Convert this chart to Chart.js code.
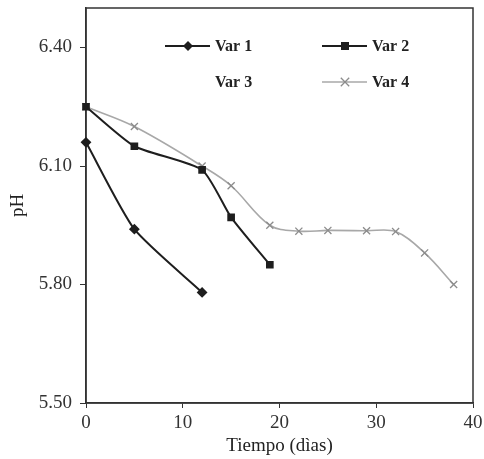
<!DOCTYPE html>
<html>
<head>
<meta charset="utf-8">
<script src="https://cdn.jsdelivr.net/npm/chart.js@4.4.0/dist/chart.umd.min.js"></script>
<style>
html, body { margin: 0; padding: 0; background: #fff; }
</style>
</head>
<body>
<canvas id="phChart" width="484" height="459"></canvas>
<script>
// valores
const dias1 = [0, 5, 12]
const ph1 = [6.16, 5.94, 5.78]
const dias2 = [0, 5, 12, 15, 19]
const ph2 = [6.25, 6.15, 6.09, 5.97, 5.85]
const dias3 = []
const ph3 = []
const dias4 = [0, 5, 12, 15, 19, 22, 25, 29, 32, 35, 38]
const ph4 = [6.25, 6.20, 6.10, 6.05, 5.95, 5.935, 5.937, 5.936, 5.934, 5.88, 5.80]
const seriesNames = ['Var 1', 'Var 2', 'Var 3', 'Var 4']
const xTicks = [0, 10, 20, 30, 40]
const yTicks = [5.50, 5.80, 6.10, 6.40]

const toPoints = (xs, ys) => xs.map((x, i) => ({x: x, y: ys[i]}))

const serif = 'Liberation Serif'
const axisColor = '#333'

// marcador para la leyenda
function drawMarker(ctx, style, cx, cy, r, color) {
    ctx.save()
    ctx.fillStyle = color
    ctx.strokeStyle = color
    ctx.lineWidth = 1.3
    ctx.beginPath()
    if (style === 'rectRot') {
        ctx.moveTo(cx, cy - r); ctx.lineTo(cx + r, cy); ctx.lineTo(cx, cy + r); ctx.lineTo(cx - r, cy)
        ctx.closePath(); ctx.fill()
    } else if (style === 'rect') {
        ctx.rect(cx - r * 0.8, cy - r * 0.8, r * 1.6, r * 1.6); ctx.fill()
    } else if (style === 'crossRot') {
        const d = r * 0.7
        ctx.moveTo(cx - d, cy - d); ctx.lineTo(cx + d, cy + d)
        ctx.moveTo(cx - d, cy + d); ctx.lineTo(cx + d, cy - d)
        ctx.stroke()
    }
    ctx.restore()
}

const legendInside = {
    id: 'legendInside',
    afterDraw(chart) {
        const ctx = chart.ctx
        const area = chart.chartArea
        const cols = [area.left + 79, area.left + 236]
        const rows = [area.top + 38, area.top + 74]
        ctx.save()
        ctx.font = 'bold 16px "' + serif + '"'
        ctx.textBaseline = 'middle'
        ctx.textAlign = 'left'
        chart.data.datasets.forEach((ds, i) => {
            const x = cols[i % 2]
            const y = rows[Math.floor(i / 2)]
            if (ds.data.length) {
                ctx.strokeStyle = ds.borderColor
                ctx.lineWidth = ds.borderWidth
                ctx.beginPath()
                ctx.moveTo(x, y); ctx.lineTo(x + 45, y)
                ctx.stroke()
                drawMarker(ctx, ds.pointStyle, x + 23, y, ds.pointRadius + 1, ds.pointBorderColor)
            }
            ctx.fillStyle = '#222'
            ctx.fillText(ds.label, x + 50, y + 1)
        })
        ctx.restore()
    }
}

const frame = {
    id: 'frame',
    beforeDatasetsDraw(chart) {
        const a = chart.chartArea
        const ctx = chart.ctx
        ctx.save()
        ctx.strokeStyle = axisColor
        ctx.lineWidth = 1.5
        ctx.strokeRect(a.left, a.top, a.right - a.left, a.bottom - a.top)
        ctx.restore()
    }
}

new Chart(document.getElementById('phChart'), {
    type: 'line',
    data: {
        datasets: [{
            label: seriesNames[0],
            data: toPoints(dias1, ph1),
            borderColor: '#1e1e1e',
            backgroundColor: '#1e1e1e',
            pointBorderColor: '#1e1e1e',
            borderWidth: 2,
            pointStyle: 'rectRot',
            pointRadius: 4,
            tension: 0.2
        }, {
            label: seriesNames[1],
            data: toPoints(dias2, ph2),
            borderColor: '#1e1e1e',
            backgroundColor: '#1e1e1e',
            pointBorderColor: '#1e1e1e',
            borderWidth: 2,
            pointStyle: 'rect',
            pointRadius: 4,
            tension: 0.2
        }, {
            label: seriesNames[2],
            data: toPoints(dias3, ph3),
            borderColor: 'rgba(0,0,0,0)',
            pointBorderColor: 'rgba(0,0,0,0)',
            borderWidth: 0,
            pointRadius: 0
        }, {
            label: seriesNames[3],
            data: toPoints(dias4, ph4),
            borderColor: '#a8a8a8',
            backgroundColor: '#a8a8a8',
            pointBorderColor: '#8c8c8c',
            pointBorderWidth: 1.3,
            borderWidth: 1.6,
            pointStyle: 'crossRot',
            pointRadius: 5,
            tension: 0.35
        }]
    },
    options: {
        responsive: false,
        animation: false,
        devicePixelRatio: 1,
        clip: false,
        layout: { padding: { top: 8, right: 11, left: 0, bottom: 0 } },
        plugins: {
            legend: { display: false },
            tooltip: { enabled: false }
        },
        scales: {
            x: {
                type: 'linear',
                min: 0,
                max: 40,
                afterBuildTicks: scale => { scale.ticks = xTicks.map(v => ({value: v})) },
                afterFit: scale => { scale.height = 56; scale.paddingLeft = 0; scale.paddingRight = 0 },
                grid: { drawOnChartArea: false, drawTicks: true, tickLength: 5, color: axisColor },
                border: { display: true, color: axisColor, width: 1.5 },
                ticks: { color: '#333', font: { family: serif, size: 19 }, padding: 4, maxRotation: 0 },
                title: { display: true, text: 'Tiempo (dìas)', color: '#222', font: { family: serif, size: 19 }, padding: { top: 0, bottom: 2 } }
            },
            y: {
                min: 5.5,
                max: 6.5,
                afterBuildTicks: scale => { scale.ticks = yTicks.map(v => ({value: v})) },
                afterFit: scale => { scale.width = 86; scale.paddingTop = 0; scale.paddingBottom = 0 },
                grid: { drawOnChartArea: false, drawTicks: true, tickLength: 6, color: axisColor },
                border: { display: true, color: axisColor, width: 1.5 },
                ticks: { color: '#333', font: { family: serif, size: 19 }, padding: 8, callback: v => v.toFixed(2) },
                title: { display: true, text: 'pH', color: '#222', font: { family: serif, size: 19 }, padding: { top: 7, bottom: 0 } }
            }
        }
    },
    plugins: [frame, legendInside]
})
</script>
</body>
</html>
